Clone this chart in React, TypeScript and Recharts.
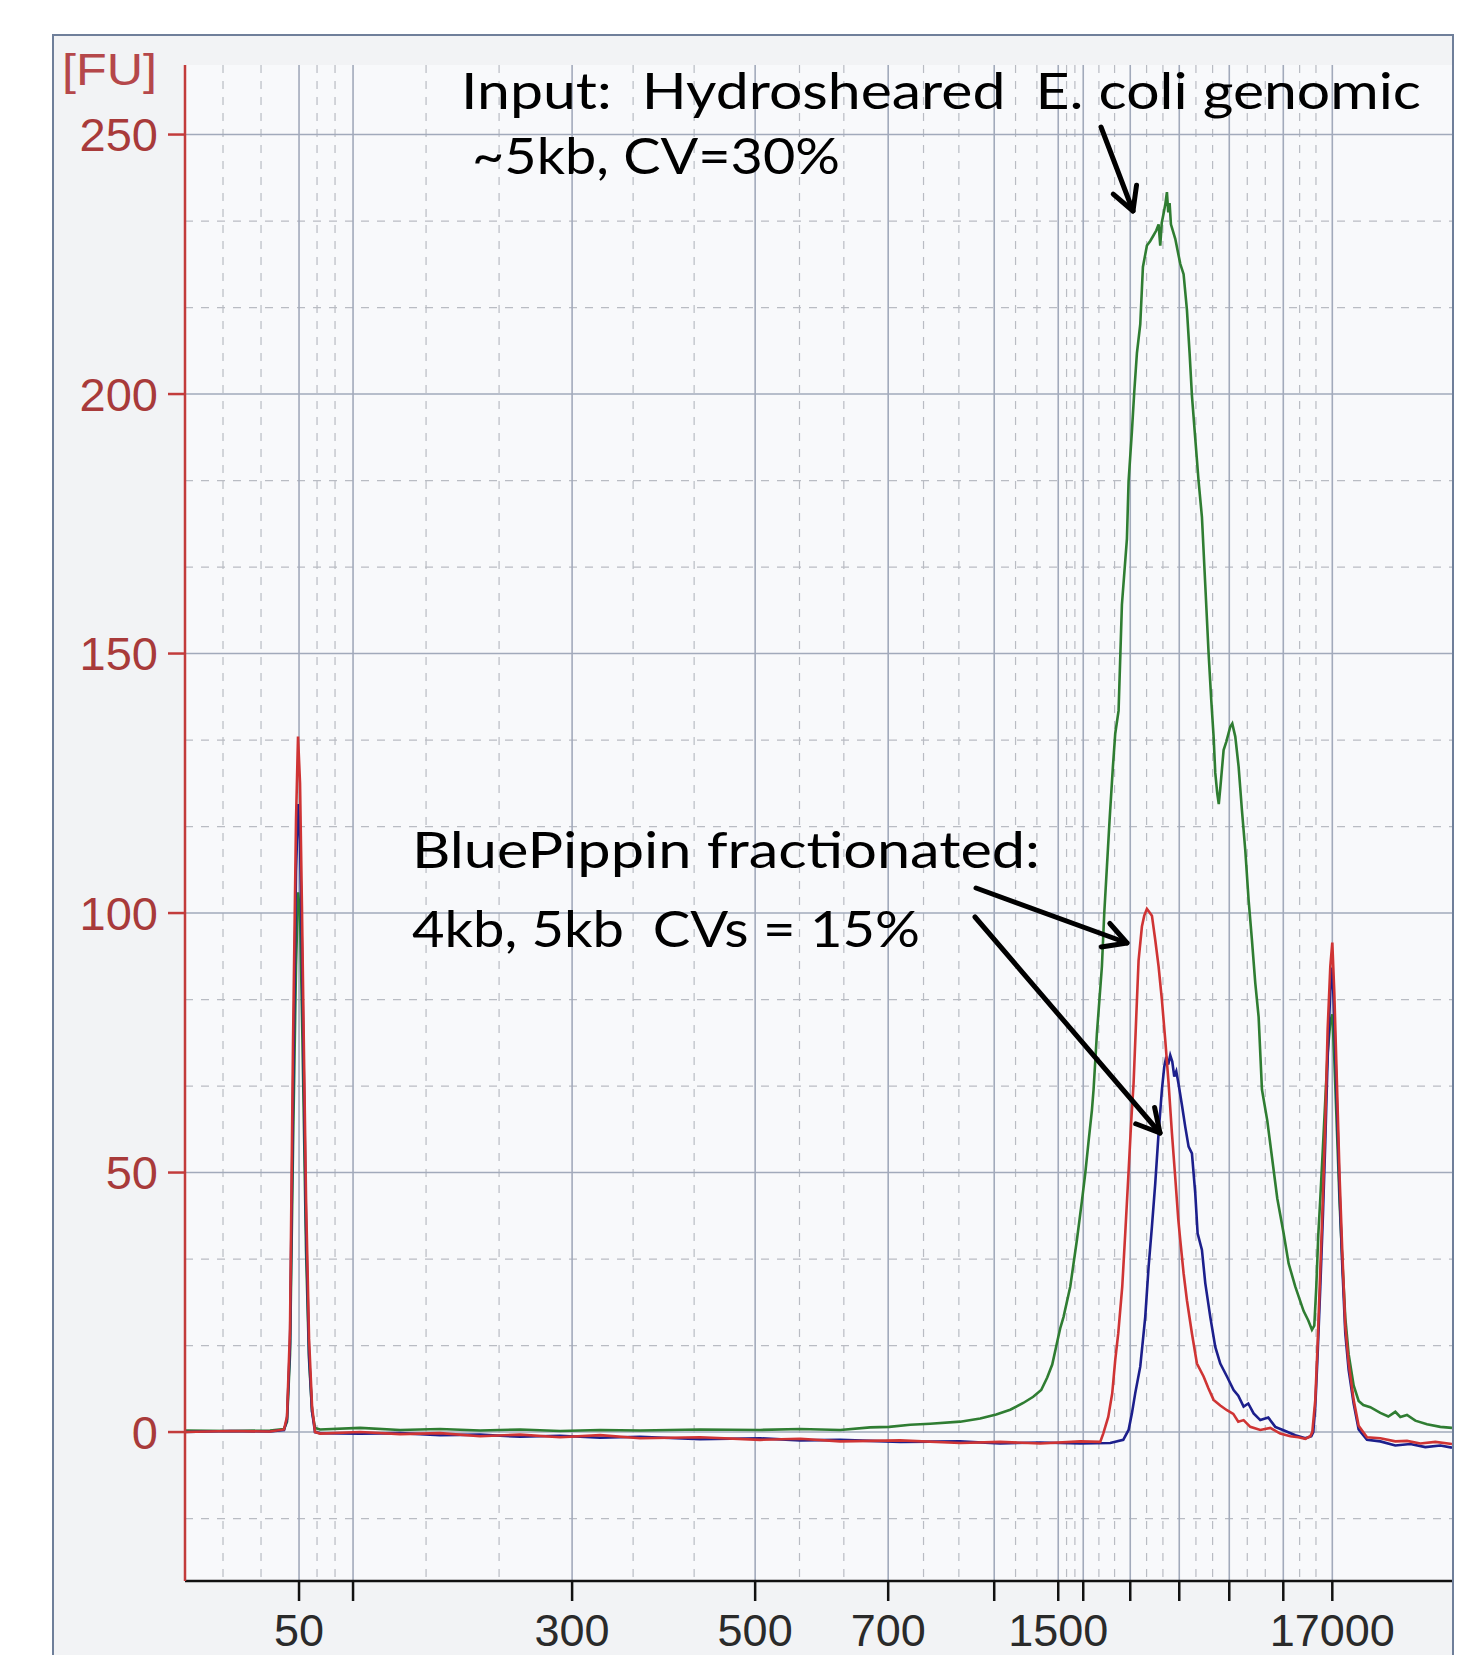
import { CartesianGrid, Line, LineChart, XAxis, YAxis } from 'recharts'

// ladder peaks: size (bp) and migration time (s)
const LADDER_BP = [50, 100, 300, 500, 700, 1000, 1500, 2000, 3000, 5000, 7000, 10380, 17000]
const LADDER_SEC = [45.84, 49.08, 62.22, 73.2, 81.18, 87.54, 91.38, 92.88, 95.7, 98.64, 101.64, 104.88, 107.82]
const LABELED_BP = [50, 300, 500, 700, 1500, 17000]
const FU_TICKS = [0, 50, 100, 150, 200, 250]

// [seconds, FU]
const INPUT_TRACE: [number, number][] = [
  [39.0, 0.3], [41.7, 0.2], [44.1, 0.3], [44.94, 0.6], [45.12, 2], [45.3, 15], [45.48, 55], [45.66, 90],
  [45.78, 104], [45.9, 100], [46.02, 80], [46.14, 58], [46.26, 35], [46.44, 14], [46.62, 4], [46.8, 0.8],
  [47.1, 0.5], [49.5, 0.8], [51.9, 0.4], [54.3, 0.6], [56.7, 0.3], [59.1, 0.5], [61.5, 0.2], [63.9, 0.4],
  [66.3, 0.3], [69.9, 0.5], [73.5, 0.4], [75.9, 0.6], [78.3, 0.4], [80.1, 0.9], [81.24, 1.0], [82.5, 1.4],
  [83.7, 1.6], [85.5, 2.0], [86.7, 2.6], [87.66, 3.4], [88.5, 4.3], [89.28, 5.6], [89.88, 6.8], [90.36, 8.1],
  [90.72, 10.5], [91.02, 13.0], [91.3, 17.1], [91.5, 20], [91.7, 22.2], [92.1, 28], [92.5, 37], [92.8, 44.5],
  [93.0, 49.8], [93.2, 56], [93.4, 62], [93.5, 66], [93.7, 76.8], [94.0, 89.7], [94.14, 99.9], [94.3, 108.9],
  [94.46, 117.9], [94.66, 128.2], [94.8, 134.6], [95.0, 139], [95.2, 159.4], [95.5, 172.1], [95.6, 183.2],
  [95.8, 192.8], [95.94, 200.4], [96.1, 207.9], [96.3, 213.4], [96.46, 224.5], [96.7, 228.6], [96.9, 229.5],
  [97.1, 230.6], [97.26, 231.5], [97.4, 232.7], [97.5, 228.6], [97.59, 233], [97.7, 234.8], [97.8, 236.5],
  [97.9, 238.9], [97.98, 235], [98.06, 236.8], [98.14, 232.7], [98.4, 229.9], [98.7, 225.1], [98.9, 223.1],
  [99.1, 216.2], [99.26, 207.9], [99.4, 199.7], [99.6, 191.4], [99.8, 183.2], [100.0, 176.3], [100.2, 163.2],
  [100.4, 150], [100.56, 141], [100.7, 134], [100.8, 127], [100.92, 123], [101.01, 121], [101.1, 124],
  [101.3, 131.4], [101.46, 133], [101.7, 135.9], [101.82, 136.5], [102.0, 134], [102.2, 128.2], [102.4, 119.8],
  [102.6, 112.1], [102.8, 102.5], [103.0, 94.8], [103.2, 86.5], [103.4, 80], [103.6, 66], [103.92, 60],
  [104.2, 53], [104.52, 45], [104.9, 38.3], [105.2, 32.5], [105.6, 28], [106.1, 23.3], [106.38, 21.5],
  [106.6, 19.7], [106.74, 20.5], [106.86, 28], [106.98, 38], [107.1, 45], [107.26, 55], [107.4, 64],
  [107.54, 73], [107.7, 79], [107.82, 80.5], [107.94, 72], [108.1, 58], [108.26, 44], [108.42, 33],
  [108.6, 22], [108.8, 15], [109.1, 9], [109.4, 6], [109.68, 5.2], [110.1, 4.8], [110.7, 3.7], [111.18, 3.0],
  [111.6, 3.9], [111.9, 2.9], [112.3, 3.3], [112.8, 2.2], [113.5, 1.5], [114.3, 1.0], [115.0, 0.8],
]

const FRACTION_4KB: [number, number][] = [
  [39.0, 0], [41.7, 0.2], [44.1, 0.1], [44.94, 0.5], [45.12, 3], [45.3, 20], [45.48, 75], [45.66, 118],
  [45.78, 134], [45.9, 125], [46.02, 100], [46.14, 72], [46.26, 45], [46.44, 18], [46.62, 5], [46.8, 0],
  [47.1, -0.3], [49.5, 0], [51.9, -0.4], [54.3, -0.2], [56.7, -0.8], [59.1, -0.5], [61.5, -1.0], [63.9, -0.6],
  [66.3, -1.2], [69.9, -1.0], [73.5, -1.5], [75.9, -1.3], [78.3, -1.8], [81.9, -1.6], [85.5, -2.1],
  [87.9, -1.9], [90.3, -2.2], [92.7, -1.8], [93.9, -1.9], [94.08, -0.3], [94.38, 2.9], [94.62, 7.5],
  [94.8, 13.9], [94.98, 19], [95.22, 28], [95.4, 38.3], [95.58, 49], [95.76, 60], [95.9, 67.2], [96.06, 80],
  [96.2, 90.9], [96.4, 97.4], [96.54, 99.5], [96.7, 100.8], [96.84, 100.2], [97.0, 99.5], [97.2, 94.8],
  [97.4, 89.7], [97.6, 83.2], [97.8, 75.5], [98.0, 67.2], [98.2, 57.6], [98.4, 49], [98.58, 41], [98.7, 37],
  [98.9, 30.6], [99.1, 25.4], [99.4, 19], [99.7, 13.2], [100.1, 10.7], [100.38, 8.5], [100.7, 6.2],
  [101.1, 5.1], [101.5, 4.2], [101.88, 3.5], [102.18, 2.0], [102.5, 2.3], [102.9, 1.0], [103.5, 0.4],
  [104.1, 0.8], [104.7, -0.3], [105.3, -0.8], [105.78, -1.0], [106.2, -1.3], [106.5, -0.8], [106.62, 0],
  [106.8, 6.2], [106.94, 17], [107.1, 31.2], [107.26, 45.5], [107.4, 59.7], [107.54, 77.5], [107.7, 89.7],
  [107.82, 94.3], [107.94, 84.7], [108.1, 66.9], [108.26, 49], [108.42, 34.7], [108.6, 20.4], [108.8, 13.3],
  [109.1, 6.2], [109.4, 1.2], [109.9, -1.0], [110.7, -1.2], [111.6, -1.8], [112.3, -1.7], [113.1, -2.2],
  [114.0, -1.9], [115.0, -2.3],
]

const FRACTION_5KB: [number, number][] = [
  [39.0, 0], [41.7, 0.2], [44.1, 0.1], [44.94, 0.4], [45.12, 2.5], [45.3, 17], [45.48, 65], [45.66, 108],
  [45.78, 121], [45.9, 114], [46.02, 92], [46.14, 66], [46.26, 40], [46.44, 15], [46.62, 4], [46.8, 0],
  [47.1, -0.2], [49.5, -0.3], [51.9, -0.2], [54.3, -0.6], [56.7, -0.5], [59.1, -0.9], [61.5, -0.7],
  [63.9, -1.1], [66.3, -0.9], [69.9, -1.4], [73.5, -1.2], [75.9, -1.6], [78.3, -1.5], [81.9, -1.9],
  [85.5, -1.8], [87.9, -2.2], [90.3, -2.0], [92.7, -2.2], [94.5, -2.1], [95.28, -1.5], [95.6, 0.4],
  [95.8, 3.6], [96.0, 7.5], [96.3, 12.6], [96.6, 22.2], [96.8, 31.8], [97.0, 39.6], [97.2, 47.9], [97.4, 57.6],
  [97.6, 66], [97.74, 70.4], [97.86, 72.3], [97.98, 70.8], [98.1, 72.6], [98.22, 71.4], [98.34, 68.5],
  [98.46, 69.5], [98.6, 67], [98.8, 63], [99.0, 58.8], [99.2, 55], [99.4, 53.7], [99.6, 46], [99.74, 38.3],
  [100.0, 35.1], [100.2, 28.7], [100.5, 22.2], [100.8, 16.4], [101.1, 13.2], [101.5, 10.7], [101.9, 8.1],
  [102.18, 7.0], [102.5, 4.9], [102.78, 5.5], [103.1, 3.6], [103.5, 2.3], [103.98, 2.8], [104.4, 1.0],
  [105.0, 0.2], [105.6, -0.6], [106.2, -1.2], [106.56, -0.8], [106.68, 0], [106.8, 5], [106.94, 15],
  [107.1, 28], [107.26, 42], [107.4, 56], [107.54, 72], [107.7, 85], [107.82, 89.5], [107.94, 80],
  [108.1, 63], [108.26, 46], [108.42, 32], [108.6, 19], [108.8, 12], [109.1, 5.5], [109.4, 0.5],
  [109.9, -1.5], [110.7, -1.8], [111.6, -2.6], [112.5, -2.3], [113.4, -2.9], [114.3, -2.6], [115.0, -3.0],
]

const X_DOMAIN: [number, number] = [39, 115]
const Y_DOMAIN: [number, number] = [-28.7, 263.4]

const rows = (pts: [number, number][]) => pts.map(([sec, fu]) => ({ sec, fu }))

// dashed minor lines split each interval in thirds
function thirds(bounds: number[]) {
  const out: number[] = []
  for (let i = 0; i < bounds.length - 1; i++) {
    const a = bounds[i]
    const b = bounds[i + 1]
    out.push(a + (b - a) / 3, a + (2 * (b - a)) / 3)
  }
  return out
}

const minorX = thirds([X_DOMAIN[0], ...LADDER_SEC])
const minorY = thirds([-50, ...FU_TICKS]).filter((v) => v > Y_DOMAIN[0])

const sizeLabel = (sec: number) => {
  const i = LADDER_SEC.indexOf(sec)
  const bp = LADDER_BP[i]
  return LABELED_BP.includes(bp) ? String(bp) : ''
}

function Arrow({ x1, y1, x2, y2 }: { x1: number; y1: number; x2: number; y2: number }) {
  const ang = Math.atan2(y2 - y1, x2 - x1)
  const len = 26
  const spread = 0.5
  const a1 = [x2 - len * Math.cos(ang - spread), y2 - len * Math.sin(ang - spread)]
  const a2 = [x2 - len * Math.cos(ang + spread), y2 - len * Math.sin(ang + spread)]
  return (
    <g stroke="#000" strokeWidth={5} fill="none" strokeLinecap="round" strokeLinejoin="round">
      <line x1={x1} y1={y1} x2={x2} y2={y2} />
      <polyline points={`${a1[0]},${a1[1]} ${x2},${y2} ${a2[0]},${a2[1]}`} />
    </g>
  )
}

export default function App() {
  const tickFont = '"Liberation Sans", Arial, sans-serif'
  const noteFont = 'Lato, "Open Sans", sans-serif'
  return (
    <div style={{ position: 'relative', width: 1481, height: 1655, overflow: 'hidden', background: '#fff' }}>
      <style>{'body{margin:0}'}</style>
      <div
        style={{
          position: 'absolute',
          left: 52,
          top: 34,
          width: 1402,
          height: 1700,
          boxSizing: 'border-box',
          border: '2px solid #6f7f9a',
          background: '#f2f3f5',
        }}
      />
      <div style={{ position: 'absolute', left: 0, top: 0 }}>
        <LineChart width={1481} height={1655} margin={{ top: 65, right: 29, bottom: 0, left: 0 }}>
          <CartesianGrid
            fill="#f8f9fb"
            stroke="#b9bcc3"
            strokeDasharray="8 8"
            strokeWidth={1.2}
            horizontalValues={minorY}
            verticalValues={minorX}
          />
          <CartesianGrid
            stroke="#a2aabb"
            strokeWidth={1.6}
            horizontalValues={FU_TICKS}
            verticalValues={LADDER_SEC}
          />
          <XAxis
            type="number"
            dataKey="sec"
            domain={X_DOMAIN}
            allowDataOverflow
            ticks={LADDER_SEC}
            interval={0}
            tickFormatter={sizeLabel}
            height={74}
            stroke="#111"
            strokeWidth={2.5}
            tickSize={20}
            tickMargin={13}
            tick={{ fill: '#2a2a2a', fontSize: 45, fontFamily: tickFont }}
          />
          <YAxis
            type="number"
            dataKey="fu"
            domain={Y_DOMAIN}
            allowDataOverflow
            ticks={FU_TICKS}
            interval={0}
            width={185}
            stroke="#c23b3b"
            strokeWidth={2.5}
            tickSize={17}
            tickMargin={10}
            tick={{ fill: '#a83a3a', fontSize: 47, fontFamily: tickFont }}
          />
          <Line
            data={rows(INPUT_TRACE)}
            dataKey="fu"
            type="linear"
            stroke="#2f7d32"
            strokeWidth={2.6}
            dot={false}
            isAnimationActive={false}
          />
          <Line
            data={rows(FRACTION_5KB)}
            dataKey="fu"
            type="linear"
            stroke="#1c1f8c"
            strokeWidth={2.6}
            dot={false}
            isAnimationActive={false}
          />
          <Line
            data={rows(FRACTION_4KB)}
            dataKey="fu"
            type="linear"
            stroke="#cf3434"
            strokeWidth={2.6}
            dot={false}
            isAnimationActive={false}
          />
        </LineChart>
      </div>
      <svg
        width={1481}
        height={1655}
        style={{ position: 'absolute', left: 0, top: 0, pointerEvents: 'none' }}
      >
        <text x={62} y={85} fontSize={44} fill="#b5474a" fontFamily={tickFont} textLength={95} lengthAdjust="spacingAndGlyphs">
          [FU]
        </text>
        <g fontFamily={noteFont} fill="#000" fontSize={50}>
          <text x={461} y={109} textLength={960} lengthAdjust="spacingAndGlyphs" xmlSpace="preserve">
            Input:  Hydrosheared  E. coli genomic
          </text>
          <text x={472} y={174} textLength={368} lengthAdjust="spacingAndGlyphs">
            ~5kb, CV=30%
          </text>
          <text x={412} y={868} textLength={628} lengthAdjust="spacingAndGlyphs">
            BluePippin fractionated:
          </text>
          <text x={412} y={947} textLength={508} lengthAdjust="spacingAndGlyphs" xmlSpace="preserve">
            4kb, 5kb  CVs = 15%
          </text>
        </g>
        <Arrow x1={1101} y1={127} x2={1133} y2={211} />
        <Arrow x1={976} y1={888} x2={1127} y2={943} />
        <Arrow x1={975} y1={917} x2={1160} y2={1133} />
      </svg>
    </div>
  )
}
